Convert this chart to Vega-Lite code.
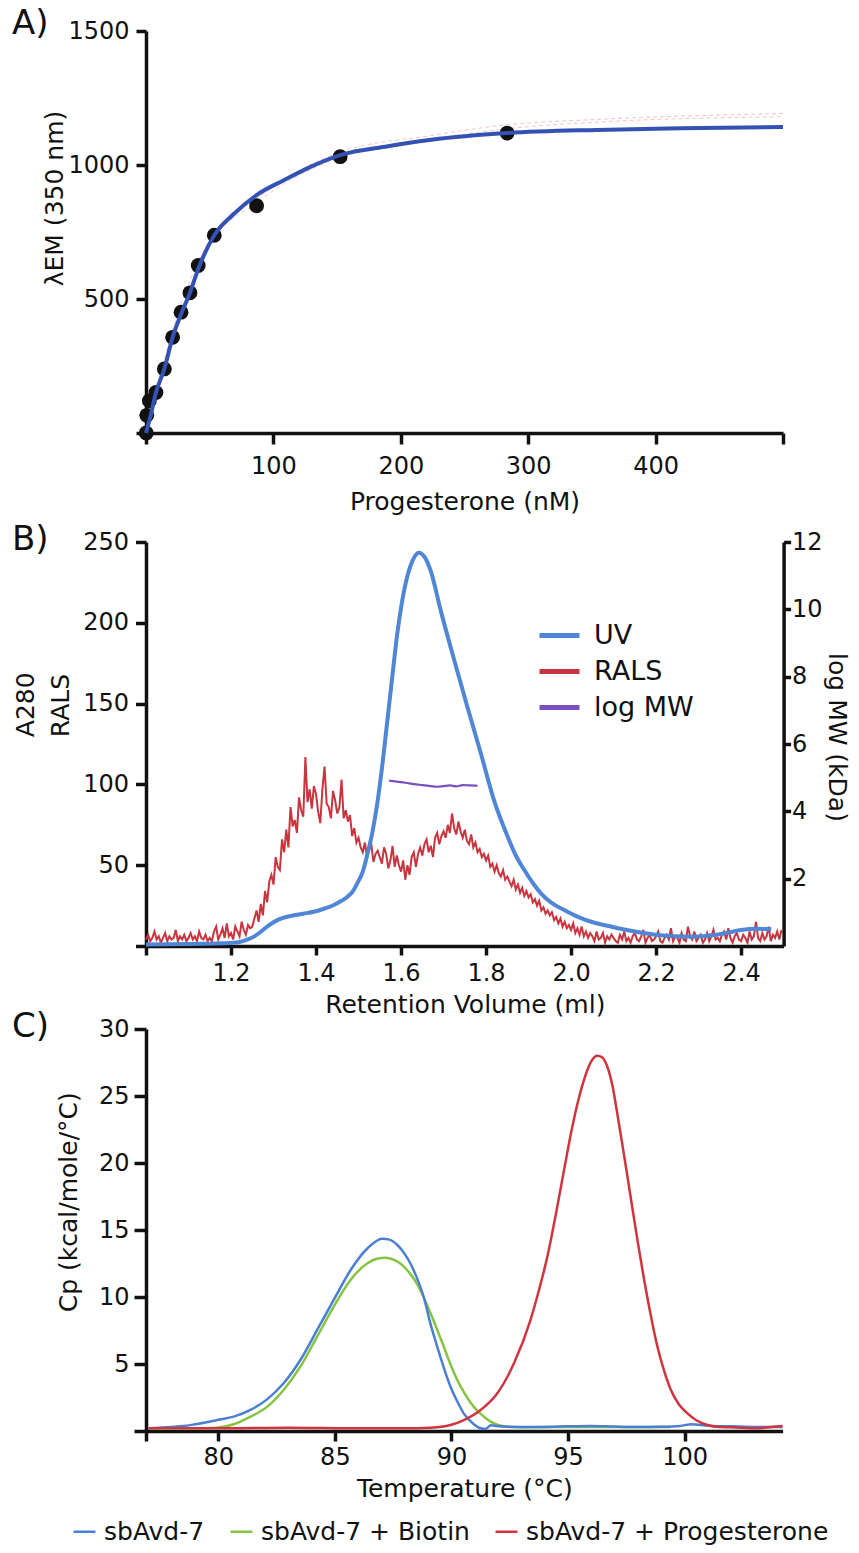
{
"$schema": "https://vega.github.io/schema/vega-lite/v6.json",
"padding": {"left": 12, "top": 7, "right": 5, "bottom": 0},
"config": {
  "font": "DejaVu Sans",
  "view": {"stroke": null},
  "axis": {"grid": false, "domainColor": "#111111", "domainWidth": 3.5, "tickColor": "#111111", "tickWidth": 3.5, "labelColor": "#111111", "titleColor": "#111111", "labelFontSize": 24, "titleFontSize": 25, "titleFontWeight": "normal", "labelOverlap": false, "labelFlush": false, "labelBound": false},
  "title": {"fontSize": 34, "fontWeight": "normal", "color": "#111111", "anchor": "start", "frame": "group", "offset": 0, "baseline": "alphabetic"},
  "legend": {"labelColor": "#111111", "labelLimit": 0}
},
"datasets": {
  "pts": [{"x":0.2,"y":0},{"x":0.6,"y":66},{"x":2.6,"y":120},{"x":7.8,"y":151},{"x":14.4,"y":239},{"x":20.9,"y":357},{"x":27.5,"y":451},{"x":34.5,"y":523},{"x":41,"y":625},{"x":53.6,"y":738},{"x":86.8,"y":848},{"x":152.4,"y":1031},{"x":283.5,"y":1119}],
  "fit": [{"x":0,"y":0},{"x":3.9,"y":70},{"x":7.8,"y":151},{"x":14.4,"y":239},{"x":20.9,"y":357},{"x":27.5,"y":443},{"x":34.5,"y":523},{"x":41,"y":612},{"x":53.6,"y":738},{"x":69.3,"y":819},{"x":86.8,"y":888},{"x":108.5,"y":944},{"x":130,"y":995},{"x":152.4,"y":1037},{"x":190,"y":1070},{"x":224,"y":1094},{"x":283,"y":1119},{"x":354,"y":1131},{"x":420,"y":1137},{"x":500,"y":1142}],
  "ci1": [{"x":0,"y":0},{"x":20,"y":370},{"x":50,"y":720},{"x":87,"y":875},{"x":150,"y":1045},{"x":224,"y":1110},{"x":283,"y":1150},{"x":354,"y":1170},{"x":500,"y":1192}],
  "ci2": [{"x":0,"y":0},{"x":20,"y":350},{"x":50,"y":700},{"x":87,"y":860},{"x":150,"y":1025},{"x":224,"y":1095},{"x":283,"y":1135},{"x":354,"y":1160},{"x":500,"y":1180}],
  "uv": [{"x":1.0,"y":1},{"x":1.1,"y":1.2},{"x":1.206,"y":2},{"x":1.23,"y":3.2},{"x":1.254,"y":5.8},{"x":1.27,"y":8.8},{"x":1.285,"y":12},{"x":1.309,"y":16},{"x":1.34,"y":18.6},{"x":1.37,"y":20},{"x":1.395,"y":21.2},{"x":1.42,"y":23.2},{"x":1.442,"y":25.4},{"x":1.46,"y":28},{"x":1.474,"y":30.5},{"x":1.487,"y":34},{"x":1.497,"y":38.8},{"x":1.51,"y":46},{"x":1.521,"y":57},{"x":1.533,"y":71},{"x":1.544,"y":88},{"x":1.556,"y":112},{"x":1.568,"y":140},{"x":1.58,"y":168},{"x":1.591,"y":193},{"x":1.603,"y":214},{"x":1.615,"y":229},{"x":1.628,"y":239},{"x":1.642,"y":243.4},{"x":1.656,"y":240.5},{"x":1.67,"y":232},{"x":1.693,"y":208},{"x":1.725,"y":177},{"x":1.756,"y":148},{"x":1.788,"y":119},{"x":1.819,"y":90},{"x":1.851,"y":67.6},{"x":1.87,"y":56},{"x":1.89,"y":47},{"x":1.91,"y":39},{"x":1.929,"y":32.6},{"x":1.955,"y":26.5},{"x":1.984,"y":22.3},{"x":2.015,"y":18.2},{"x":2.047,"y":15},{"x":2.08,"y":12.8},{"x":2.11,"y":11},{"x":2.15,"y":9},{"x":2.204,"y":6.8},{"x":2.245,"y":6},{"x":2.282,"y":5.8},{"x":2.31,"y":6.1},{"x":2.337,"y":6.8},{"x":2.37,"y":8.3},{"x":2.4,"y":9.9},{"x":2.44,"y":10.6},{"x":2.471,"y":10.5}],
  "mw": [{"x":1.572,"y":4.91},{"x":1.59,"y":4.88},{"x":1.61,"y":4.85},{"x":1.63,"y":4.81},{"x":1.65,"y":4.78},{"x":1.67,"y":4.75},{"x":1.685,"y":4.73},{"x":1.7,"y":4.75},{"x":1.715,"y":4.77},{"x":1.73,"y":4.74},{"x":1.745,"y":4.78},{"x":1.76,"y":4.77},{"x":1.78,"y":4.76}],
  "rals": [
{"x":1.000,"y":4},{"x":1.005,"y":7},{"x":1.010,"y":3},{"x":1.015,"y":5},{"x":1.020,"y":9},{"x":1.025,"y":4},{"x":1.030,"y":6},{"x":1.035,"y":2},{"x":1.040,"y":5},{"x":1.045,"y":8},
{"x":1.050,"y":3},{"x":1.055,"y":6},{"x":1.060,"y":4},{"x":1.065,"y":5},{"x":1.070,"y":10},{"x":1.075,"y":3},{"x":1.080,"y":6},{"x":1.085,"y":4},{"x":1.090,"y":7},{"x":1.095,"y":3},
{"x":1.100,"y":5},{"x":1.105,"y":8},{"x":1.110,"y":4},{"x":1.115,"y":6},{"x":1.120,"y":3},{"x":1.125,"y":9},{"x":1.130,"y":5},{"x":1.135,"y":4},{"x":1.140,"y":7},{"x":1.145,"y":3},
{"x":1.150,"y":5},{"x":1.155,"y":3},{"x":1.160,"y":9},{"x":1.165,"y":12},{"x":1.170,"y":4},{"x":1.175,"y":7},{"x":1.180,"y":11},{"x":1.185,"y":5},{"x":1.190,"y":14},{"x":1.195,"y":6},
{"x":1.200,"y":8},{"x":1.205,"y":4},{"x":1.210,"y":12},{"x":1.215,"y":9},{"x":1.220,"y":6},{"x":1.225,"y":15},{"x":1.230,"y":10},{"x":1.235,"y":7},{"x":1.240,"y":13},{"x":1.245,"y":11},
{"x":1.250,"y":12},{"x":1.255,"y":17},{"x":1.260,"y":22},{"x":1.265,"y":15},{"x":1.270,"y":26},{"x":1.275,"y":19},{"x":1.280,"y":34},{"x":1.285,"y":27},{"x":1.290,"y":40},{"x":1.295,"y":44},
{"x":1.300,"y":38},{"x":1.305,"y":55},{"x":1.310,"y":49},{"x":1.315,"y":47},{"x":1.320,"y":66},{"x":1.325,"y":58},{"x":1.330,"y":72},{"x":1.335,"y":61},{"x":1.340,"y":86},{"x":1.345,"y":74},
{"x":1.350,"y":78},{"x":1.355,"y":70},{"x":1.360,"y":92},{"x":1.365,"y":84},{"x":1.370,"y":80},{"x":1.375,"y":117},{"x":1.380,"y":89},{"x":1.385,"y":97},{"x":1.390,"y":85},{"x":1.395,"y":99},
{"x":1.400,"y":94},{"x":1.405,"y":83},{"x":1.410,"y":76},{"x":1.415,"y":97},{"x":1.420,"y":111},{"x":1.425,"y":88},{"x":1.430,"y":86},{"x":1.435,"y":79},{"x":1.440,"y":96},{"x":1.445,"y":90},
{"x":1.450,"y":82},{"x":1.455,"y":86},{"x":1.460,"y":103},{"x":1.465,"y":79},{"x":1.470,"y":84},{"x":1.475,"y":77},{"x":1.480,"y":81},{"x":1.485,"y":68},{"x":1.490,"y":73},{"x":1.495,"y":64},
{"x":1.500,"y":67},{"x":1.505,"y":61},{"x":1.510,"y":58},{"x":1.515,"y":64},{"x":1.520,"y":55},{"x":1.525,"y":60},{"x":1.530,"y":63},{"x":1.535,"y":52},{"x":1.540,"y":57},{"x":1.545,"y":59},
{"x":1.550,"y":55},{"x":1.555,"y":51},{"x":1.560,"y":61},{"x":1.565,"y":57},{"x":1.570,"y":48},{"x":1.575,"y":53},{"x":1.580,"y":62},{"x":1.585,"y":49},{"x":1.590,"y":56},{"x":1.595,"y":50},
{"x":1.600,"y":46},{"x":1.605,"y":53},{"x":1.610,"y":41},{"x":1.615,"y":50},{"x":1.620,"y":44},{"x":1.625,"y":55},{"x":1.630,"y":58},{"x":1.635,"y":49},{"x":1.640,"y":57},{"x":1.645,"y":61},
{"x":1.650,"y":56},{"x":1.655,"y":63},{"x":1.660,"y":66},{"x":1.665,"y":58},{"x":1.670,"y":62},{"x":1.675,"y":55},{"x":1.680,"y":67},{"x":1.685,"y":70},{"x":1.690,"y":63},{"x":1.695,"y":68},
{"x":1.700,"y":71},{"x":1.705,"y":67},{"x":1.710,"y":75},{"x":1.715,"y":70},{"x":1.720,"y":82},{"x":1.725,"y":73},{"x":1.730,"y":69},{"x":1.735,"y":77},{"x":1.740,"y":71},{"x":1.745,"y":67},
{"x":1.750,"y":72},{"x":1.755,"y":65},{"x":1.760,"y":63},{"x":1.765,"y":69},{"x":1.770,"y":61},{"x":1.775,"y":64},{"x":1.780,"y":58},{"x":1.785,"y":60},{"x":1.790,"y":55},{"x":1.795,"y":57},
{"x":1.800,"y":53},{"x":1.805,"y":56},{"x":1.810,"y":49},{"x":1.815,"y":51},{"x":1.820,"y":46},{"x":1.825,"y":50},{"x":1.830,"y":45},{"x":1.835,"y":43},{"x":1.840,"y":47},{"x":1.845,"y":41},
{"x":1.850,"y":43},{"x":1.855,"y":40},{"x":1.860,"y":37},{"x":1.865,"y":41},{"x":1.870,"y":35},{"x":1.875,"y":38},{"x":1.880,"y":33},{"x":1.885,"y":36},{"x":1.890,"y":31},{"x":1.895,"y":34},
{"x":1.900,"y":30},{"x":1.905,"y":32},{"x":1.910,"y":27},{"x":1.915,"y":29},{"x":1.920,"y":25},{"x":1.925,"y":28},{"x":1.930,"y":22},{"x":1.935,"y":24},{"x":1.940,"y":20},{"x":1.945,"y":22},
{"x":1.950,"y":19},{"x":1.955,"y":21},{"x":1.960,"y":16},{"x":1.965,"y":18},{"x":1.970,"y":14},{"x":1.975,"y":17},{"x":1.980,"y":12},{"x":1.985,"y":15},{"x":1.990,"y":11},{"x":1.995,"y":13},
{"x":2.000,"y":10},{"x":2.005,"y":14},{"x":2.010,"y":8},{"x":2.015,"y":11},{"x":2.020,"y":7},{"x":2.025,"y":12},{"x":2.030,"y":6},{"x":2.035,"y":9},{"x":2.040,"y":5},{"x":2.045,"y":8},
{"x":2.050,"y":6},{"x":2.055,"y":3},{"x":2.060,"y":9},{"x":2.065,"y":4},{"x":2.070,"y":5},{"x":2.075,"y":8},{"x":2.080,"y":2},{"x":2.085,"y":6},{"x":2.090,"y":4},{"x":2.095,"y":7},
{"x":2.100,"y":5},{"x":2.105,"y":3},{"x":2.110,"y":2},{"x":2.115,"y":7},{"x":2.120,"y":4},{"x":2.125,"y":9},{"x":2.130,"y":3},{"x":2.135,"y":5},{"x":2.140,"y":2},{"x":2.145,"y":6},
{"x":2.150,"y":8},{"x":2.155,"y":4},{"x":2.160,"y":3},{"x":2.165,"y":6},{"x":2.170,"y":10},{"x":2.175,"y":2},{"x":2.180,"y":5},{"x":2.185,"y":7},{"x":2.190,"y":3},{"x":2.195,"y":4},
{"x":2.200,"y":6},{"x":2.205,"y":9},{"x":2.210,"y":3},{"x":2.215,"y":2},{"x":2.220,"y":5},{"x":2.225,"y":7},{"x":2.230,"y":4},{"x":2.235,"y":11},{"x":2.240,"y":3},{"x":2.245,"y":6},
{"x":2.250,"y":5},{"x":2.255,"y":2},{"x":2.260,"y":8},{"x":2.265,"y":4},{"x":2.270,"y":3},{"x":2.275,"y":12},{"x":2.280,"y":6},{"x":2.285,"y":4},{"x":2.290,"y":9},{"x":2.295,"y":3},
{"x":2.300,"y":5},{"x":2.305,"y":7},{"x":2.310,"y":2},{"x":2.315,"y":4},{"x":2.320,"y":8},{"x":2.325,"y":3},{"x":2.330,"y":6},{"x":2.335,"y":10},{"x":2.340,"y":4},{"x":2.345,"y":5},
{"x":2.350,"y":3},{"x":2.355,"y":7},{"x":2.360,"y":9},{"x":2.365,"y":4},{"x":2.370,"y":11},{"x":2.375,"y":5},{"x":2.380,"y":2},{"x":2.385,"y":6},{"x":2.390,"y":8},{"x":2.395,"y":4},
{"x":2.400,"y":3},{"x":2.405,"y":7},{"x":2.410,"y":5},{"x":2.415,"y":2},{"x":2.420,"y":9},{"x":2.425,"y":4},{"x":2.430,"y":6},{"x":2.435,"y":15},{"x":2.440,"y":5},{"x":2.445,"y":3},
{"x":2.450,"y":8},{"x":2.455,"y":4},{"x":2.460,"y":6},{"x":2.465,"y":12},{"x":2.470,"y":3},{"x":2.475,"y":7},{"x":2.480,"y":5},{"x":2.485,"y":9},{"x":2.490,"y":4},{"x":2.495,"y":10}
  ],
  "cblue": [{"x":77.0,"y":0.2},{"x":78.0,"y":0.3},{"x":78.5,"y":0.37},{"x":79.0,"y":0.5},{"x":79.5,"y":0.65},{"x":79.95,"y":0.82},{"x":80.66,"y":1.07},{"x":81.38,"y":1.57},{"x":82.09,"y":2.36},{"x":82.8,"y":3.56},{"x":83.52,"y":5.3},{"x":84.24,"y":7.54},{"x":84.95,"y":9.78},{"x":85.67,"y":12.0},{"x":86.38,"y":13.6},{"x":87.03,"y":14.35},{"x":87.3,"y":14.3},{"x":87.67,"y":13.9},{"x":88.0,"y":13.2},{"x":88.24,"y":12.5},{"x":88.5,"y":11.5},{"x":88.81,"y":10.0},{"x":89.1,"y":8.0},{"x":89.3,"y":6.8},{"x":89.53,"y":5.5},{"x":89.75,"y":4.3},{"x":89.96,"y":3.3},{"x":90.25,"y":2.2},{"x":90.53,"y":1.3},{"x":90.9,"y":0.6},{"x":91.25,"y":0.2},{"x":91.45,"y":0.15},{"x":91.7,"y":0.42},{"x":92.0,"y":0.35},{"x":93.0,"y":0.3},{"x":94.0,"y":0.3},{"x":95.0,"y":0.35},{"x":96.0,"y":0.38},{"x":97.0,"y":0.33},{"x":98.0,"y":0.3},{"x":99.0,"y":0.32},{"x":99.8,"y":0.38},{"x":100.3,"y":0.5},{"x":101.0,"y":0.4},{"x":102.0,"y":0.35},{"x":103.0,"y":0.3},{"x":104.2,"y":0.3}],
  "cgreen": [{"x":77.0,"y":0.2},{"x":78.0,"y":0.2},{"x":79.0,"y":0.2},{"x":79.95,"y":0.25},{"x":80.66,"y":0.5},{"x":81.38,"y":1.07},{"x":82.09,"y":1.8},{"x":82.8,"y":3.06},{"x":83.52,"y":4.8},{"x":84.24,"y":7.04},{"x":84.95,"y":9.28},{"x":85.67,"y":11.27},{"x":86.38,"y":12.5},{"x":86.8,"y":12.85},{"x":87.17,"y":12.93},{"x":87.5,"y":12.8},{"x":87.81,"y":12.5},{"x":88.2,"y":11.8},{"x":88.52,"y":11.0},{"x":88.8,"y":10.0},{"x":89.1,"y":8.8},{"x":89.4,"y":7.5},{"x":89.67,"y":6.3},{"x":89.95,"y":5.0},{"x":90.25,"y":3.8},{"x":90.6,"y":2.7},{"x":90.96,"y":1.8},{"x":91.3,"y":1.2},{"x":91.68,"y":0.7},{"x":92.0,"y":0.45},{"x":92.4,"y":0.32},{"x":93.0,"y":0.28},{"x":95.0,"y":0.3},{"x":97.0,"y":0.3},{"x":99.4,"y":0.3}],
  "cred": [{"x":77.0,"y":0.2},{"x":80.0,"y":0.2},{"x":83.0,"y":0.25},{"x":86.0,"y":0.2},{"x":88.0,"y":0.2},{"x":89.1,"y":0.25},{"x":89.96,"y":0.45},{"x":90.53,"y":0.82},{"x":91.25,"y":1.57},{"x":91.96,"y":2.8},{"x":92.68,"y":5.05},{"x":93.39,"y":8.3},{"x":93.75,"y":10.5},{"x":94.11,"y":13.0},{"x":94.5,"y":16.4},{"x":94.82,"y":19.4},{"x":95.1,"y":22.0},{"x":95.4,"y":24.4},{"x":95.7,"y":26.3},{"x":96.0,"y":27.6},{"x":96.25,"y":28.0},{"x":96.45,"y":27.9},{"x":96.68,"y":27.2},{"x":96.9,"y":25.8},{"x":97.11,"y":23.7},{"x":97.4,"y":20.6},{"x":97.68,"y":17.5},{"x":97.97,"y":14.3},{"x":98.26,"y":11.3},{"x":98.55,"y":8.6},{"x":98.83,"y":6.3},{"x":99.1,"y":4.6},{"x":99.4,"y":3.1},{"x":99.75,"y":2.0},{"x":100.12,"y":1.32},{"x":100.5,"y":0.8},{"x":100.98,"y":0.45},{"x":101.5,"y":0.3},{"x":101.98,"y":0.28},{"x":103.1,"y":0.2},{"x":103.7,"y":0.3},{"x":104.2,"y":0.37}]
},
"spacing": 9,
"vconcat": [
  {
    "width": 637, "height": 402,
    "title": {"text": "A)", "dx": -134, "dy": 26},
    "encoding": {
      "x": {"field": "x", "type": "quantitative", "scale": {"domain": [0, 500], "nice": false, "zero": false},
            "axis": {"values": [0, 100, 200, 300, 400, 500], "format": "d", "labelExpr": "datum.value == 0 || datum.value == 500 ? '' : datum.label", "title": "Progesterone (nM)", "tickSize": 11, "labelPadding": 10, "titleY": 76, "titleBaseline": "alphabetic"}},
      "y": {"field": "y", "type": "quantitative", "scale": {"domain": [0, 1500], "nice": false},
            "axis": {"values": [0, 500, 1000, 1500], "format": "d", "labelExpr": "datum.value == 0 ? '' : datum.label", "title": "λEM (350 nm)", "tickSize": 10, "labelPadding": 7, "titleX": -84, "titleY": 167, "titleBaseline": "alphabetic", "titleAngle": -90, "titleAlign": "center"}}
    },
    "layer": [
      {"data": {"name": "ci1"}, "mark": {"type": "line", "stroke": "#f3c4c4", "strokeWidth": 1, "strokeDash": [4, 3], "interpolate": "monotone"}},
      {"data": {"name": "ci2"}, "mark": {"type": "line", "stroke": "#f3c4c4", "strokeWidth": 1, "strokeDash": [4, 3], "interpolate": "monotone"}},
      {"data": {"name": "pts"}, "mark": {"type": "circle", "size": 220, "color": "#111111", "opacity": 1}},
      {"data": {"name": "fit"}, "mark": {"type": "line", "stroke": "#3452b4", "strokeWidth": 4, "interpolate": "monotone"}}
    ]
  },
  {
    "bounds": "flush",
    "spacing": 83,
    "resolve": {"scale": {"color": "independent"}},
    "vconcat": [
      {
        "width": 637.6, "height": 404,
        "title": {"text": "B)", "dx": -134, "dy": 31},
        "encoding": {
          "x": {"field": "x", "type": "quantitative", "scale": {"domain": [1.0, 2.5], "nice": false, "zero": false},
                "axis": {"values": [1.0, 1.2, 1.4, 1.6, 1.8, 2.0, 2.2, 2.4], "format": ".1f", "labelExpr": "datum.value < 1.1 ? '' : datum.label", "title": "Retention Volume (ml)", "tickSize": 9, "labelPadding": 6.5, "titleY": 66, "titleBaseline": "alphabetic"}}
        },
        "layer": [
          {
            "encoding": {
              "y": {"field": "y", "type": "quantitative", "scale": {"domain": [0, 250], "nice": false},
                    "axis": {"orient": "left", "values": [0, 50, 100, 150, 200, 250], "labelExpr": "datum.value == 0 ? '' : datum.label", "title": ["A280", "RALS"], "tickSize": 10.5, "labelPadding": 7, "titleX": -112.7, "titleY": 194.7, "titleAngle": -90, "titleAlign": "left", "titleBaseline": "alphabetic", "titleLineHeight": 35}}
            },
            "layer": [
              {"data": {"name": "rals"}, "mark": {"type": "line", "strokeWidth": 2},
               "encoding": {"color": {"datum": "RALS", "type": "nominal",
                  "scale": {"domain": ["UV", "RALS", "log MW"], "range": ["#4f86d6", "#c9353f", "#7a4fc2"]},
                  "legend": {"orient": "none", "legendX": 391, "legendY": 71, "title": null, "symbolType": "stroke", "symbolSize": 1600, "symbolStrokeWidth": 5, "labelFontSize": 27, "labelOffset": 12, "rowPadding": -6, "padding": 0, "labelColor": "#111111"}}}},
              {"data": {"name": "uv"}, "mark": {"type": "line", "strokeWidth": 4, "interpolate": "monotone"},
               "encoding": {"color": {"datum": "UV", "type": "nominal"}}}
            ]
          },
          {"data": {"name": "mw"}, "mark": {"type": "line", "strokeWidth": 2.2, "interpolate": "monotone"},
           "encoding": {
             "y": {"field": "y", "type": "quantitative", "scale": {"domain": [0, 12], "nice": false},
                   "axis": {"orient": "right", "values": [2, 4, 6, 8, 10, 12], "title": "log MW (kDa)", "tickSize": 7, "labelPadding": 1, "titleX": 45, "titleY": 195, "titleAngle": 90, "titleAlign": "center", "titleBaseline": "alphabetic"}},
             "color": {"datum": "log MW", "type": "nominal"}}}
        ],
        "resolve": {"scale": {"y": "independent"}}
      },
      {
        "width": 636.6, "height": 402,
        "title": {"text": "C)", "dx": -134, "dy": 31},
        "encoding": {
          "x": {"field": "x", "type": "quantitative", "scale": {"domain": [76.9, 104.2], "nice": false, "zero": false},
                "axis": {"values": [76.9, 80, 85, 90, 95, 100], "format": "d", "labelExpr": "datum.value < 78 ? '' : datum.label", "title": "Temperature (°C)", "tickSize": 10, "labelPadding": 4.5, "titleY": 65, "titleBaseline": "alphabetic"}},
          "y": {"field": "y", "type": "quantitative", "scale": {"domain": [0, 30], "nice": false},
                "axis": {"values": [0, 5, 10, 15, 20, 25, 30], "labelExpr": "datum.value == 0 ? '' : datum.label", "title": "Cp (kcal/mole/°C)", "tickSize": 12, "labelPadding": 5, "titleX": -69.5, "titleY": 172.7, "titleAngle": -90, "titleAlign": "center", "titleBaseline": "alphabetic"}}
        },
        "layer": [
          {"data": {"name": "cgreen"}, "mark": {"type": "line", "strokeWidth": 2.5, "interpolate": "monotone"},
           "encoding": {"color": {"datum": "sbAvd-7 + Biotin", "type": "nominal",
              "scale": {"domain": ["sbAvd-7", "sbAvd-7 + Biotin", "sbAvd-7 + Progesterone"], "range": ["#4a7fd2", "#85c441", "#d0343e"]},
              "legend": {"orient": "none", "direction": "horizontal", "legendX": -74, "legendY": 490, "title": null, "symbolType": "stroke", "symbolSize": 480, "symbolStrokeWidth": 2.5, "labelFontSize": 25, "labelOffset": 7, "labelLimit": 0, "columnPadding": 20, "padding": 0, "labelColor": "#111111"}}}},
          {"data": {"name": "cblue"}, "mark": {"type": "line", "strokeWidth": 2.5, "interpolate": "monotone"},
           "encoding": {"color": {"datum": "sbAvd-7", "type": "nominal"}}},
          {"data": {"name": "cred"}, "mark": {"type": "line", "strokeWidth": 2.5, "interpolate": "monotone"},
           "encoding": {"color": {"datum": "sbAvd-7 + Progesterone", "type": "nominal"}}}
        ]
      }
    ]
  }
]
}
